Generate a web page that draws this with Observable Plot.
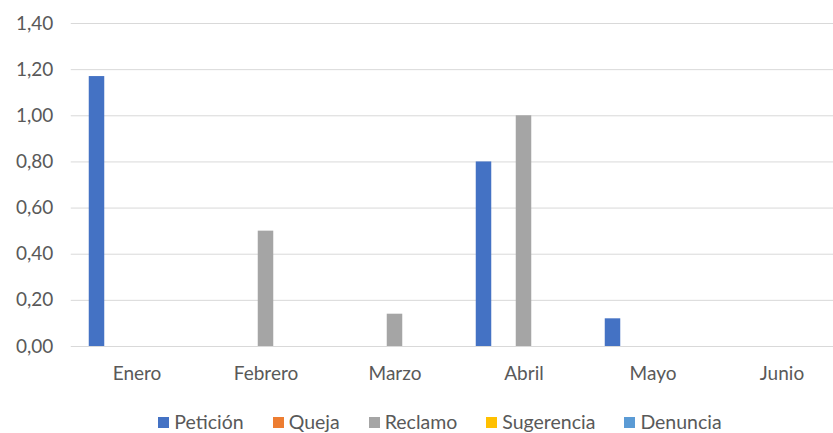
<!DOCTYPE html>
<html>
<head>
<meta charset="utf-8">
<script src="https://cdn.jsdelivr.net/npm/d3@7"></script>
<script src="https://cdn.jsdelivr.net/npm/@observablehq/plot@0.6"></script>
<style>
  html, body { margin: 0; padding: 0; background: #fff; overflow: hidden; }
  #wrap { width: 833px; height: 433px; overflow: hidden; position: relative; }
  #chart svg { display: block; overflow: hidden; }
  #legend { position: absolute; left: 47px; right: 0; top: 410px; display: flex; justify-content: center; gap: 29px;
    font-family: Lato, "Open Sans", sans-serif; font-size: 19.5px; color: #595959; line-height: 24px; }
  #legend .item { display: flex; align-items: center; }
  #legend .sw { width: 11px; height: 11px; margin-right: 5px; display: inline-block; }
</style>
</head>
<body>
<div id="wrap">
  <div id="chart"></div>
  <div id="legend"></div>
</div>
<script>
const months = ["Enero", "Febrero", "Marzo", "Abril", "Mayo", "Junio"];
const series = ["Petición", "Queja", "Reclamo", "Sugerencia", "Denuncia"];
const colors = ["#4472C4", "#ED7D31", "#A5A5A5", "#FFC000", "#5B9BD5"];
const peticion   = [1.17, 0, 0, 0.80, 0.12, 0];
const queja      = [0, 0, 0, 0, 0, 0];
const reclamo    = [0, 0.50, 0.14, 1.00, 0, 0];
const sugerencia = [0, 0, 0, 0, 0, 0];
const denuncia   = [0, 0, 0, 0, 0, 0];
const yTicks = [0, 0.2, 0.4, 0.6, 0.8, 1.0, 1.2, 1.4];

const valuesBySeries = [peticion, queja, reclamo, sugerencia, denuncia];
const fmt = d => d.toFixed(2).replace(".", ",");

const marginLeft = 70.75, marginRight = -14.75, width = 833;
const bandW = (width - marginLeft - marginRight) / months.length;
const barW = 16, barStep = 20;
const inset = (bandW - barW) / 2;

const barMarks = series.map((s, j) => {
  const rows = months.map((m, i) => ({month: m, series: s, value: valuesBySeries[j][i]})).filter(d => d.value > 0);
  return Plot.barY(rows, {x: "month", y: "value", fill: "series", dx: (j - 2) * barStep, insetLeft: inset, insetRight: inset});
});

const chart = Plot.plot({
  width,
  height: 395,
  marginLeft,
  marginRight,
  marginTop: 23,
  marginBottom: 49,
  style: {fontFamily: "Lato, 'Open Sans', sans-serif", fontSize: "19px", color: "#595959", background: "#fff"},
  x: {domain: months, padding: 0, label: null, tickSize: 0, tickPadding: 20},
  y: {domain: [0, 1.4], ticks: yTicks, tickFormat: fmt, label: null, tickSize: 0, tickPadding: 18},
  color: {domain: series, range: colors},
  marks: [
    Plot.ruleY(yTicks, {y: d => d, stroke: "#d9d9d9", strokeWidth: 1, strokeOpacity: 1}),
    ...barMarks
  ]
});
document.getElementById("chart").appendChild(chart);

const legend = document.getElementById("legend");
series.forEach((s, j) => {
  const it = document.createElement("div");
  it.className = "item";
  const sw = document.createElement("span");
  sw.className = "sw";
  sw.style.background = colors[j];
  it.appendChild(sw);
  it.appendChild(document.createTextNode(s));
  legend.appendChild(it);
});
</script>
</body>
</html>
